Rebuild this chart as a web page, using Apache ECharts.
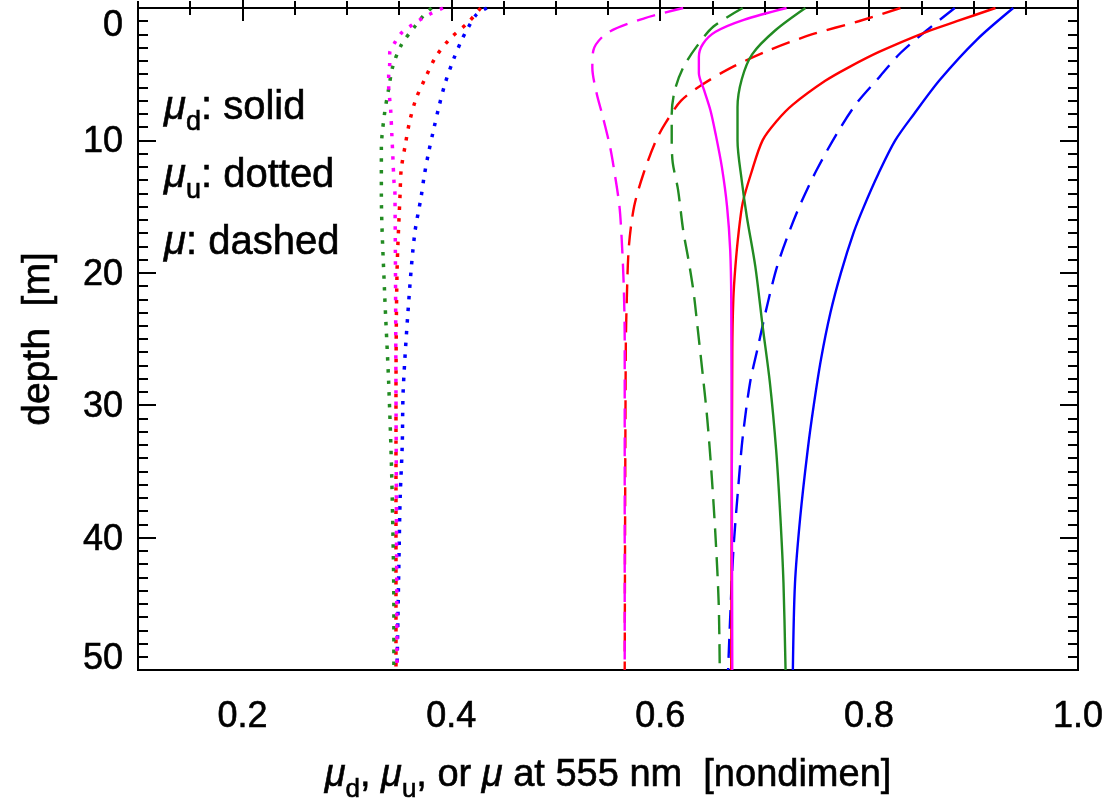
<!DOCTYPE html>
<html><head><meta charset="utf-8">
<script src="https://cdn.jsdelivr.net/npm/echarts@6/dist/echarts.min.js"></script>
<style>html,body{margin:0;padding:0;background:#fff}#c{width:1107px;height:808px}</style>
</head><body><div id="c"></div>
<script>
// ---- tick labels ----
const yTickValues = [0, 10, 20, 30, 40, 50];
const xTickValues = [0.2, 0.4, 0.6, 0.8, 1.0];

// ---- blue ----
const blueSolidDepth = [0, 2.4, 5.4, 8, 10, 12.5, 15, 17, 20, 23, 26.5, 30, 33.5, 38.5, 43.5, 50];
const blueSolidMu    = [0.938, 0.903, 0.868, 0.843, 0.825, 0.809, 0.795, 0.785, 0.773, 0.763, 0.754, 0.747, 0.741, 0.734, 0.729, 0.727];
const blueDashDepth  = [0, 1.7, 3.4, 5.2, 7.2, 9.5, 12.2, 14.5, 16.8, 19.5, 22.6, 25.8, 28.3, 32.4, 35.9, 41, 46, 50];
const blueDashMu     = [0.882, 0.855, 0.830, 0.810, 0.788, 0.769, 0.750, 0.736, 0.724, 0.712, 0.702, 0.693, 0.686, 0.679, 0.675, 0.670, 0.667, 0.665];
const blueDotDepth   = [0, 0.5, 1.5, 2.4, 3.9, 5.7, 7.5, 9.2, 11, 12.7, 14.3, 17, 21.3, 28.7, 33, 37, 41, 50];
const blueDotMu      = [0.434, 0.424, 0.416, 0.410, 0.402, 0.394, 0.388, 0.383, 0.378, 0.374, 0.371, 0.365, 0.360, 0.354, 0.353, 0.351, 0.350, 0.348];

// ---- red ----
const redSolidDepth = [0, 1, 1.8, 3.3, 4.5, 5.5, 7.3, 8.5, 10, 12.5, 14.7, 17, 19.5, 22, 26, 50];
const redSolidMu    = [0.921, 0.884, 0.855, 0.810, 0.780, 0.758, 0.727, 0.712, 0.698, 0.687, 0.679, 0.675, 0.672, 0.670, 0.669, 0.668];
const redDashDepth  = [0, 1, 2, 3.2, 4.5, 5.8, 7, 8.7, 10, 12.5, 15, 18, 22, 26, 50];
const redDashMu     = [0.830, 0.790, 0.745, 0.704, 0.668, 0.640, 0.620, 0.605, 0.596, 0.584, 0.575, 0.570, 0.568, 0.567, 0.566];
const redDotDepth   = [0, 1.1, 2.3, 3.7, 5.3, 6.9, 8.6, 10.3, 12.2, 13.9, 20, 30, 50];
const redDotMu      = [0.428, 0.416, 0.399, 0.385, 0.375, 0.366, 0.360, 0.356, 0.352, 0.351, 0.348, 0.347, 0.347];

// ---- green ----
const greenSolidDepth = [0, 1.7, 3.5, 5.4, 7.5, 10, 13, 15.8, 19.5, 24, 28.3, 33.4, 38.4, 43.4, 50];
const greenSolidMu    = [0.739, 0.710, 0.688, 0.678, 0.674, 0.674, 0.678, 0.683, 0.691, 0.698, 0.705, 0.711, 0.715, 0.718, 0.720];
const greenDashDepth  = [0, 1.4, 2.9, 4.5, 6.2, 8, 10, 11.7, 13.7, 16.8, 19, 21.5, 24.3, 27.9, 31, 35, 40, 45, 50];
const greenDashMu     = [0.679, 0.651, 0.635, 0.622, 0.614, 0.611, 0.611, 0.612, 0.617, 0.622, 0.627, 0.632, 0.636, 0.641, 0.645, 0.649, 0.653, 0.656, 0.657];
const greenDotDepth   = [0, 0.6, 1.4, 2.8, 4.4, 6.1, 8, 10.6, 14, 21.3, 28.3, 35.6, 45.7, 50];
const greenDotMu      = [0.381, 0.373, 0.365, 0.352, 0.344, 0.340, 0.336, 0.333, 0.333, 0.336, 0.340, 0.343, 0.345, 0.345];

// ---- magenta ----
const magSolidDepth = [0, 0.9, 1.8, 2.7, 3.7, 4.9, 6.2, 7.7, 9.5, 12, 15, 18.3, 22, 50];
const magSolidMu    = [0.721, 0.680, 0.653, 0.641, 0.637, 0.637, 0.642, 0.648, 0.653, 0.659, 0.664, 0.667, 0.668, 0.669];
const magDashDepth  = [0, 0.8, 1.9, 3.2, 4.5, 6.4, 8.2, 10.5, 12.8, 15, 17.3, 20.8, 25, 50];
const magDashMu     = [0.622, 0.584, 0.549, 0.536, 0.535, 0.539, 0.545, 0.552, 0.557, 0.561, 0.563, 0.565, 0.566, 0.566];
const magDotDepth   = [0, 0.4, 0.8, 1.3, 1.9, 2.6, 3.4, 4.2, 5.1, 5.9, 6.9, 7.8, 9.5, 11.2, 13, 14, 29, 50];
const magDotMu      = [0.392, 0.381, 0.372, 0.362, 0.352, 0.346, 0.341, 0.341, 0.340, 0.340, 0.341, 0.342, 0.343, 0.344, 0.345, 0.346, 0.347, 0.348];

const BLUE = '#0000ff', RED = '#ff0000', GREEN = '#228b22', MAG = '#ff00ff';
const FONT = 'Liberation Sans';
const TB = { textBorderColor: '#000', textBorderWidth: 0.6 };
const GB = { stroke: '#000', lineWidth: 0.6 };

function pairs(d, v) { return v.map((x, i) => [x, d[i]]); }
const STY = {
  solid:  { type: 'solid', width: 2.4 },
  dashed: { type: [19, 10], width: 2.4 },
  dotted: { type: [3.5, 8.2], width: 3.5 }
};
function line(name, color, style, d, v) {
  return {
    name, type: 'line', xAxisIndex: 0, yAxisIndex: 0,
    data: pairs(d, v), showSymbol: false, symbol: 'none',
    smooth: 0.3, silent: true, animation: false,
    lineStyle: Object.assign({ color }, STY[style])
  };
}

const series = [
  line('blue dotted', BLUE, 'dotted', blueDotDepth, blueDotMu),
  line('red dotted', RED, 'dotted', redDotDepth, redDotMu),
  line('green dotted', GREEN, 'dotted', greenDotDepth, greenDotMu),
  line('magenta dotted', MAG, 'dotted', magDotDepth, magDotMu),
  line('blue dashed', BLUE, 'dashed', blueDashDepth, blueDashMu),
  line('red dashed', RED, 'dashed', redDashDepth, redDashMu),
  line('green dashed', GREEN, 'dashed', greenDashDepth, greenDashMu),
  line('magenta dashed', MAG, 'dashed', magDashDepth, magDashMu),
  line('blue solid', BLUE, 'solid', blueSolidDepth, blueSolidMu),
  line('red solid', RED, 'solid', redSolidDepth, redSolidMu),
  line('green solid', GREEN, 'solid', greenSolidDepth, greenSolidMu),
  line('magenta solid', MAG, 'solid', magSolidDepth, magSolidMu)
];

const gridRect = { left: 138, right: 29, top: 8, bottom: 138 };
const tickLine = { color: '#000', width: 2 };

function richFor(b, fs, ss) {
  return {
    mu:  Object.assign({ fontFamily: FONT, fontStyle: 'italic', fontSize: fs, color: '#000', fill: '#000' }, b),
    sub: Object.assign({ fontFamily: FONT, fontSize: ss, color: '#000', fill: '#000', padding: [Math.round(fs * 0.74), 0, 0, 0] }, b),
    t:   Object.assign({ fontFamily: FONT, fontSize: fs, color: '#000', fill: '#000' }, b)
  };
}

function minorX(pos) {
  return {
    type: 'value', gridIndex: 0, position: pos, min: 0.1, max: 1.0, interval: 0.05,
    axisLine: { show: false }, splitLine: { show: false },
    axisTick: { show: true, inside: true, length: 7, lineStyle: tickLine },
    axisLabel: { show: false }
  };
}
function majorX(pos, labels) {
  return {
    type: 'value', gridIndex: 1, position: pos, min: 0.1, max: 1.0,
    axisLine: { show: false }, splitLine: { show: false },
    axisTick: { show: true, inside: true, length: 13, lineStyle: tickLine, customValues: xTickValues },
    axisLabel: labels ? Object.assign({
      show: true, customValues: xTickValues, margin: 30,
      fontFamily: FONT, fontSize: 36, color: '#000',
      formatter: v => Number(v).toFixed(1)
    }, TB) : { show: false },
    name: labels ? '{mu|μ}{sub|d}{t|, }{mu|μ}{sub|u}{t|, or }{mu|μ}{t| at 555 nm  [nondimen]}' : '',
    nameLocation: 'middle', nameGap: 80,
    nameTextStyle: { rich: richFor(TB, 38, 26) }
  };
}
function yAx(pos, labels, grid) {
  const lab = (pad) => Object.assign({ fontFamily: FONT, fontSize: 36, color: '#000', padding: pad }, TB);
  return {
    type: 'value', gridIndex: grid, position: pos, inverse: true, min: 0, max: 50, interval: 10,
    show: grid === 0,
    axisLine: { show: false }, splitLine: { show: false },
    axisTick: { show: true, inside: true, length: 18, lineStyle: tickLine },
    minorTick: { show: true, splitNumber: 10, length: 10, lineStyle: tickLine },
    axisLabel: labels ? {
      show: true, margin: 15, fontFamily: FONT, fontSize: 36, color: '#000',
      formatter: v => v === 0 ? '{top|0}' : (v === 50 ? '{bot|50}' : '{n|' + v + '}'),
      rich: { n: lab([4, 0, 0, 0]), top: lab([36, 0, 0, 0]), bot: lab([0, 0, 22, 0]) }
    } : { show: false },
    name: labels ? 'depth  [m]' : '',
    nameLocation: 'middle', nameGap: 80,
    nameTextStyle: Object.assign({ fontFamily: FONT, fontSize: 39, color: '#000' }, TB)
  };
}

const gRich = richFor(GB, 40, 27);
const chart = echarts.init(document.getElementById('c'), null, { renderer: 'canvas' });
chart.setOption({
  animation: false,
  backgroundColor: '#fff',
  grid: [
    Object.assign({ show: true, borderColor: '#000', borderWidth: 2, backgroundColor: 'transparent' }, gridRect),
    Object.assign({ show: false }, gridRect)
  ],
  xAxis: [minorX('bottom'), minorX('top'), majorX('bottom', true), majorX('top', false)],
  yAxis: [yAx('left', true, 0), yAx('right', false, 0), yAx('left', false, 1)],
  series: series,
  graphic: [
    { type: 'text', x: 164, y: 108, silent: true,
      style: { text: '{mu|μ}{sub|d}{t|: solid}', rich: gRich, verticalAlign: 'middle', align: 'left' } },
    { type: 'text', x: 164, y: 176, silent: true,
      style: { text: '{mu|μ}{sub|u}{t|: dotted}', rich: gRich, verticalAlign: 'middle', align: 'left' } },
    { type: 'text', x: 164, y: 243, silent: true,
      style: { text: '{mu|μ}{t|: dashed}', rich: gRich, verticalAlign: 'middle', align: 'left' } }
  ]
});
</script>
</body></html>
